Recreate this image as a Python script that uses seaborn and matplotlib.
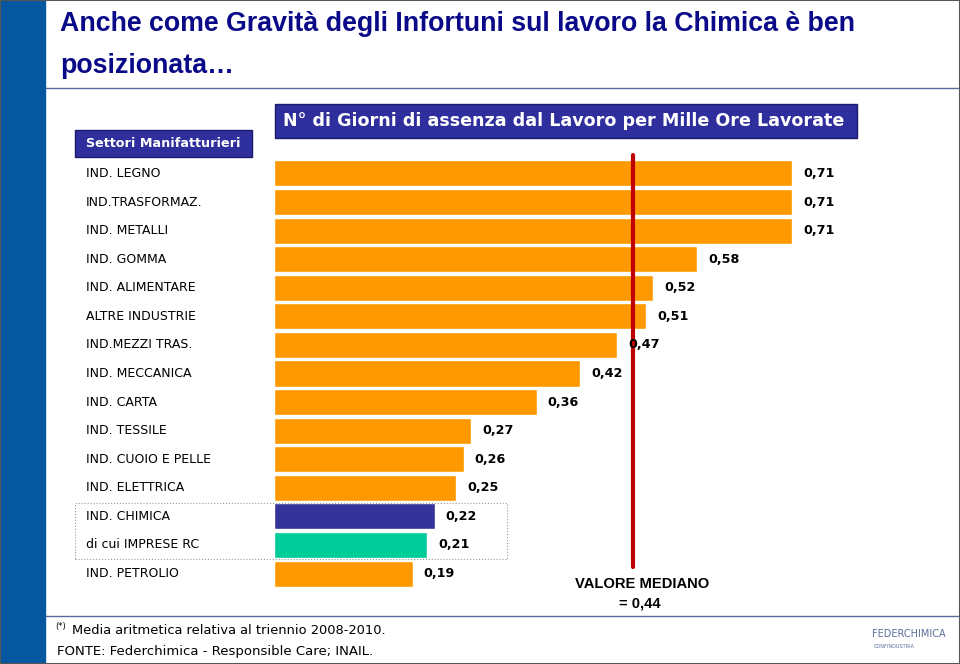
import matplotlib
matplotlib.use("Agg")
import matplotlib.pyplot as plt
import matplotlib.transforms as mtransforms
from matplotlib.patches import Rectangle
import seaborn as sns

# data
sectors = ["IND. LEGNO", "IND.TRASFORMAZ.", "IND. METALLI", "IND. GOMMA", "IND. ALIMENTARE",
           "ALTRE INDUSTRIE", "IND.MEZZI TRAS.", "IND. MECCANICA", "IND. CARTA", "IND. TESSILE",
           "IND. CUOIO E PELLE", "IND. ELETTRICA", "IND. CHIMICA", "di cui IMPRESE RC", "IND. PETROLIO"]
values = [0.71, 0.71, 0.71, 0.58, 0.52, 0.51, 0.47, 0.42, 0.36, 0.27, 0.26, 0.25, 0.22, 0.21, 0.19]
bar_colors = ["#FF9900"] * 12 + ["#333399", "#00CC99", "#FF9900"]
median_text = "0,44"
median_line_pos = 0.492  # where the red line is drawn in the picture

W, H = 960, 664
def fx(px):
    return px / W
def fy(py):
    return 1 - py / H

sns.set_style("white")
plt.rcParams["text.color"] = "black"
fig = plt.figure(figsize=(W / 100, H / 100), dpi=100)

# decoration: blue strip, separators, border
fig.patches.append(Rectangle((0, 0), fx(45), 1, transform=fig.transFigure, color="#0558A0", zorder=0))
fig.add_artist(plt.Line2D([fx(46), 1], [fy(88), fy(88)], color="#5A6A9A", lw=1))
fig.add_artist(plt.Line2D([fx(46), 1], [fy(616), fy(616)], color="#5A6A9A", lw=1))
fig.patches.append(Rectangle((0, 0), 1, 1, transform=fig.transFigure, fill=False,
                             edgecolor="#555555", lw=1.5, zorder=10))

# title
title_kw = dict(fontsize=19.3, fontweight="bold", color="#0A0A88", family="Liberation Sans",
                ha="left", va="center")
fig.text(fx(60), fy(24), "Anche come Gravità degli Infortuni sul lavoro la Chimica è ben", **title_kw)
fig.text(fx(60), fy(66), "posizionata…", **title_kw)

# header boxes
fig.patches.append(Rectangle((fx(75), fy(157)), fx(252) - fx(75), fy(130) - fy(157),
                             transform=fig.transFigure, facecolor="#2E2E9C", edgecolor="#1A1A70", lw=1))
fig.text(fx(163), fy(143.5), "Settori Manifatturieri", fontsize=9.2, fontweight="bold",
         color="white", ha="center", va="center")
fig.patches.append(Rectangle((fx(275), fy(138)), fx(857) - fx(275), fy(104) - fy(138),
                             transform=fig.transFigure, facecolor="#2E2E9C", edgecolor="#1A1A70", lw=1))
fig.text(fx(564), fy(121.5), "N° di Giorni di assenza dal Lavoro per Mille Ore Lavorate",
         fontsize=12.6, fontweight="bold", color="white", ha="center", va="center")

# bars
scale = 729.6  # px per unit
ax_left, ax_right = 274, 958
ax_top, ax_bottom = 159.2, 587.8
ax = fig.add_axes([fx(ax_left), fy(ax_bottom), fx(ax_right) - fx(ax_left), fy(ax_top) - fy(ax_bottom)])
sns.barplot(x=values, y=sectors, hue=sectors, palette=bar_colors, legend=False,
            orient="h", width=0.91, saturation=1, ax=ax)
ax.set_xlim(0, (ax_right - ax_left) / scale)
ax.set_ylim(len(sectors) - 0.5, -0.5)
ax.axis("off")

for cont in ax.containers:
    ax.bar_label(cont, labels=[f"{v.get_width():.2f}".replace(".", ",") for v in cont],
                 padding=8, fontsize=9.2, fontweight="bold", color="black")

# category labels
trans = mtransforms.blended_transform_factory(fig.transFigure, ax.transData)
for i, s in enumerate(sectors):
    ax.text(fx(86), i, s, transform=trans, fontsize=9, color="black", ha="left", va="center",
            clip_on=False)

# dotted box around chemistry rows
fig.patches.append(Rectangle((fx(75), fy(559)), fx(507) - fx(75), fy(503) - fy(559),
                             transform=fig.transFigure, fill=False, edgecolor="#999999",
                             lw=0.8, linestyle=":"))

# median line
ax.axvline(median_line_pos, ymin=(ax_bottom - 567) / (ax_bottom - ax_top),
           ymax=(ax_bottom - 155) / (ax_bottom - ax_top), color="#C00000", lw=3, clip_on=False)
fig.text(fx(642), fy(584), "VALORE MEDIANO", fontsize=10.6, fontweight="bold",
         family="Liberation Sans", ha="center", va="center")
fig.text(fx(640), fy(603), "= " + median_text, fontsize=10.6, fontweight="bold",
         family="Liberation Sans", ha="center", va="center")

# footer
fig.text(fx(55), fy(626), "(*)", fontsize=6, ha="left", va="center")
fig.text(fx(72), fy(631), "Media aritmetica relativa al triennio 2008-2010.", fontsize=9.4,
         ha="left", va="center")
fig.text(fx(57), fy(651), "FONTE: Federchimica - Responsible Care; INAIL.", fontsize=9.5,
         ha="left", va="center")
fig.text(fx(872), fy(634), "FEDERCHIMICA", fontsize=7, color="#5A6F9A", ha="left", va="center")
fig.text(fx(874), fy(647), "CONFINDUSTRIA", fontsize=3.6, color="#5A6F9A", ha="left", va="center")

fig.savefig("out.png", dpi=100)
